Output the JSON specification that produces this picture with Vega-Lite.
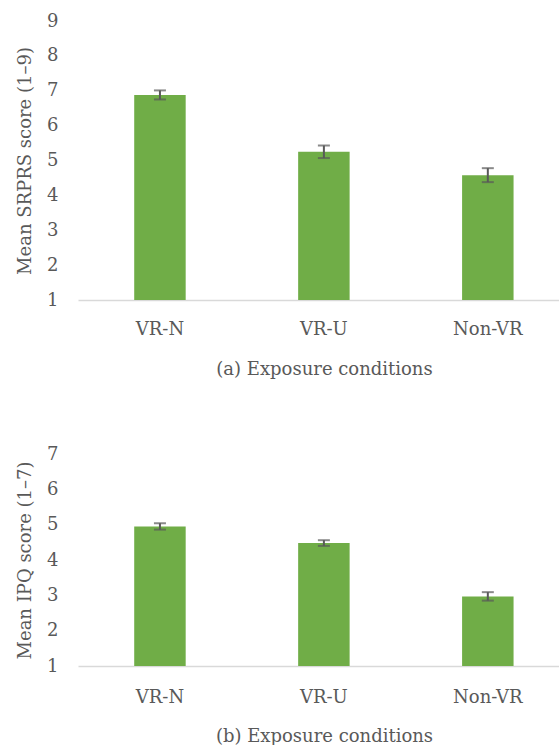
{
  "$schema": "https://vega.github.io/schema/vega-lite/v6.json",
  "padding": {"left": 16, "top": 12, "right": 0, "bottom": 0},
  "background": "white",
  "config": {
    "view": {"stroke": null},
    "font": "DejaVu Serif",
    "axis": {"labelFont": "DejaVu Serif", "titleFont": "DejaVu Serif", "labelColor": "#595959", "titleColor": "#595959", "labelFontSize": 18, "titleFontSize": 18, "titleFontWeight": "normal", "grid": false, "ticks": false, "labelOverlap": false}
  },
  "spacing": 67,
  "vconcat": [
    {
      "width": 481,
      "height": 279,
      "data": {"values": [
        {"condition": "VR-N", "mean": 6.88, "lo": 6.75, "hi": 7.01},
        {"condition": "VR-U", "mean": 5.25, "lo": 5.07, "hi": 5.43},
        {"condition": "Non-VR", "mean": 4.58, "lo": 4.38, "hi": 4.78}
      ]},
      "encoding": {
        "x": {"field": "condition", "type": "nominal", "sort": null,
          "scale": {"paddingInner": 0.686, "paddingOuter": 0.31, "align": 0.553},
          "axis": {"title": "(a) Exposure conditions", "labelAngle": 0, "labelPadding": 20, "titlePadding": 22, "titleX": 246, "domainColor": "#d9d9d9", "domainWidth": 1.5}}
      },
      "layer": [
        {
          "mark": {"type": "bar", "color": "#70AD47"},
          "encoding": {
            "y": {"field": "mean", "type": "quantitative", "title": "Mean SRPRS score (1–9)", "scale": {"domain": [1, 9], "zero": false, "nice": false},
              "axis": {"title": "Mean SRPRS score (1–9)", "values": [1,2,3,4,5,6,7,8,9], "domain": false, "labelPadding": 20, "titlePadding": 12}},
            "y2": {"datum": 1}
          }
        },
        {
          "mark": {"type": "errorbar", "ticks": {"size": 12, "thickness": 2, "color": "#595959"}, "rule": {"strokeWidth": 2, "color": "#595959"}},
          "encoding": {
            "y": {"field": "lo", "type": "quantitative", "title": "Mean SRPRS score (1–9)",
              "axis": {"title": "Mean SRPRS score (1–9)", "values": [1,2,3,4,5,6,7,8,9], "domain": false, "labelPadding": 20, "titlePadding": 12}},
            "y2": {"field": "hi"}
          }
        }
      ]
    },
    {
      "width": 481,
      "height": 212,
      "data": {"values": [
        {"condition": "VR-N", "mean": 4.95, "lo": 4.86, "hi": 5.04},
        {"condition": "VR-U", "mean": 4.48, "lo": 4.4, "hi": 4.56},
        {"condition": "Non-VR", "mean": 2.97, "lo": 2.85, "hi": 3.09}
      ]},
      "encoding": {
        "x": {"field": "condition", "type": "nominal", "sort": null,
          "scale": {"paddingInner": 0.686, "paddingOuter": 0.31, "align": 0.553},
          "axis": {"title": "(b) Exposure conditions", "labelAngle": 0, "labelPadding": 22, "titlePadding": 21, "titleX": 246, "domainColor": "#d9d9d9", "domainWidth": 1.5}}
      },
      "layer": [
        {
          "mark": {"type": "bar", "color": "#70AD47"},
          "encoding": {
            "y": {"field": "mean", "type": "quantitative", "title": "Mean IPQ score (1–7)", "scale": {"domain": [1, 7], "zero": false, "nice": false},
              "axis": {"title": "Mean IPQ score (1–7)", "values": [1,2,3,4,5,6,7], "domain": false, "labelPadding": 20, "titlePadding": 12}},
            "y2": {"datum": 1}
          }
        },
        {
          "mark": {"type": "errorbar", "ticks": {"size": 12, "thickness": 2, "color": "#595959"}, "rule": {"strokeWidth": 2, "color": "#595959"}},
          "encoding": {
            "y": {"field": "lo", "type": "quantitative", "title": "Mean IPQ score (1–7)",
              "axis": {"title": "Mean IPQ score (1–7)", "values": [1,2,3,4,5,6,7], "domain": false, "labelPadding": 20, "titlePadding": 12}},
            "y2": {"field": "hi"}
          }
        }
      ]
    }
  ]
}
